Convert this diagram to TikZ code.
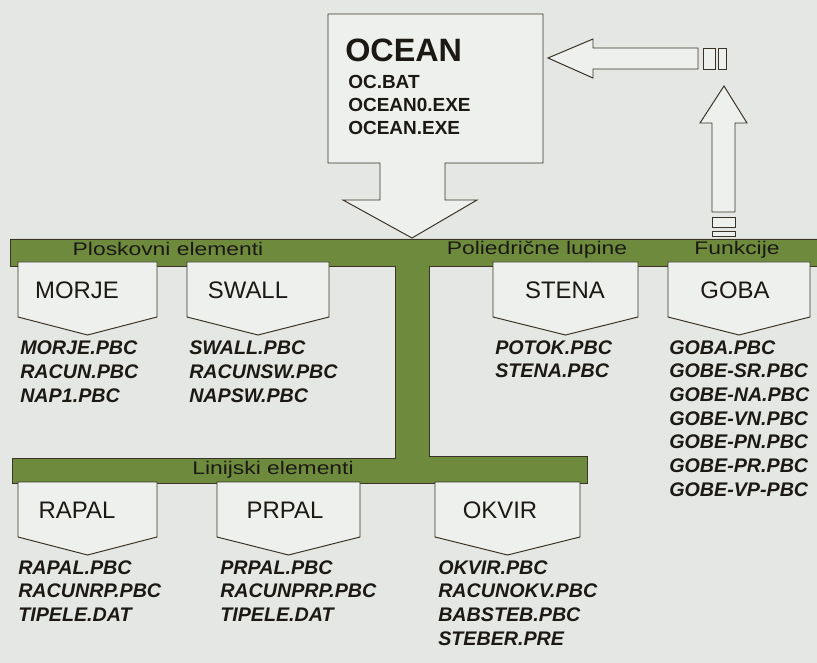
\documentclass[tikz,border=0pt]{standalone}
\usepackage{fontspec}
\setsansfont{Liberation Sans}
\usepackage{xcolor}
\usepackage{graphicx}
\definecolor{PageGrey}{HTML}{E4E7E3}
\definecolor{BoxWhite}{HTML}{EEF0ED}
\definecolor{BarGreen}{HTML}{6E8B3D}
\definecolor{EdgeDark}{HTML}{3A3327}
\definecolor{InkBlack}{HTML}{1C1915}

\begin{document}
\begin{tikzpicture}[
  x=0.025cm, y=-0.025cm,
  % Grundstile
  modul/.style={
    draw=EdgeDark,
    fill=BoxWhite,
    line width=0.7pt
  },
  modname/.style={
    font=\sffamily\fontsize{17}{20}\selectfont,
    text=InkBlack,
    inner sep=0pt
  },
  datei/.style={
    font=\sffamily\bfseries\itshape\fontsize{14}{17}\selectfont,
    text=InkBlack,
    anchor=base west,
    inner sep=0pt
  },
  leiste/.style={
    font=\sffamily\fontsize{13}{15}\selectfont,
    text=InkBlack,
    anchor=base,
    inner sep=0pt
  },
  hohlpfeil/.style={
    draw=EdgeDark,
    fill=BoxWhite,
    line width=0.7pt
  }
]

% =============================================================================
% HINTERGRUND
% =============================================================================
\fill[PageGrey] (0,0) rectangle (817,663);
\useasboundingbox (0,0) rectangle (817,663);

% =============================================================================
% OCEAN mit Pfeil nach unten
% =============================================================================
\draw[modul] (328,14) -- (543,14) -- (543,163) -- (445,163) -- (445,200)
  -- (477,200) -- (412,238) -- (343,200) -- (380,200) -- (380,163)
  -- (328,163) -- cycle;
\node[font=\sffamily\bfseries\fontsize{23}{26}\selectfont, text=InkBlack,
      anchor=base west, inner sep=0pt] (ocean) at (345,62) {OCEAN};
\foreach \k/\f in {0/OC.BAT, 1/OCEAN0.EXE, 2/OCEAN.EXE} {
  \node[font=\sffamily\bfseries\fontsize{13.5}{16}\selectfont, text=InkBlack,
        anchor=base west, inner sep=0pt] (ocean-f\k) at (348,89+\k*23) {\f};
}

% Hohlpfeil nach links
\draw[hohlpfeil] (548,58) -- (593,39) -- (593,48) -- (698,48) -- (698,69)
  -- (593,69) -- (593,78) -- cycle;
\draw[hohlpfeil] (703,48) rectangle (715,69);
\draw[hohlpfeil] (718,48) rectangle (726,69);

% Hohlpfeil nach oben
\draw[hohlpfeil] (724,86) -- (747,123) -- (735,123) -- (735,212) -- (712,212)
  -- (712,123) -- (700,123) -- cycle;
\draw[hohlpfeil] (712,217) rectangle (735,227);
\draw[hohlpfeil] (712,231) rectangle (735,236);

% =============================================================================
% GRUENE LEISTEN
% =============================================================================
\draw[fill=BarGreen, draw=EdgeDark, line width=0.7pt]
  (10,239) -- (817,239) -- (817,266) -- (429,266) -- (429,456) -- (587,456)
  -- (587,483) -- (12,483) -- (12,458) -- (395,458) -- (395,266) -- (10,266)
  -- cycle;

\node[leiste] (ploskovni) at (168,256) {\scalebox{1.25}[1]{Ploskovni elementi}};
\node[leiste] (poliedricne) at (537,255) {\scalebox{1.25}[1]{Poliedrične lupine}};
\node[leiste] (funkcije) at (737,255) {\scalebox{1.25}[1]{Funkcije}};
\node[leiste] (linijski) at (273,474) {\scalebox{1.25}[1]{Linijski elementi}};

% =============================================================================
% MODULE
% =============================================================================
\foreach \mod/\xa/\xb/\yt/\tx/\titel in {morje/18/157/262/77/MORJE,
    swall/187/329/262/248/SWALL, stena/493/638/262/565/STENA,
    goba/668/810/262/735/GOBA, rapal/18/157/482/77/RAPAL,
    prpal/217/360/482/285/PRPAL, okvir/435/580/482/500/OKVIR} {
  \draw[modul] (\xa,\yt) -- (\xb,\yt) -- (\xb,\yt+55)
    -- ({(\xa+\xb)/2},\yt+73) -- (\xa,\yt+55) -- cycle;
  \node[modname] (\mod) at (\tx,\yt+28) {\titel};
}

% Dateien unter den Modulen
\foreach \mod/\fx/\fy/\dateien in {
    morje/20/355/{MORJE.PBC,RACUN.PBC,NAP1.PBC},
    swall/189/355/{SWALL.PBC,RACUNSW.PBC,NAPSW.PBC},
    stena/495/354/{POTOK.PBC,STENA.PBC},
    goba/669/354/{GOBA.PBC,GOBE-SR.PBC,GOBE-NA.PBC,GOBE-VN.PBC,GOBE-PN.PBC,GOBE-PR.PBC,GOBE-VP-PBC},
    rapal/18/574/{RAPAL.PBC,RACUNRP.PBC,TIPELE.DAT},
    prpal/220/574/{PRPAL.PBC,RACUNPRP.PBC,TIPELE.DAT},
    okvir/438/574/{OKVIR.PBC,RACUNOKV.PBC,BABSTEB.PBC,STEBER.PRE}} {
  \foreach \f [count=\k from 0] in \dateien {
    \node[datei] (\mod-f\k) at (\fx,\fy+\k*23.7) {\f};
  }
}

\end{tikzpicture}
\end{document}
